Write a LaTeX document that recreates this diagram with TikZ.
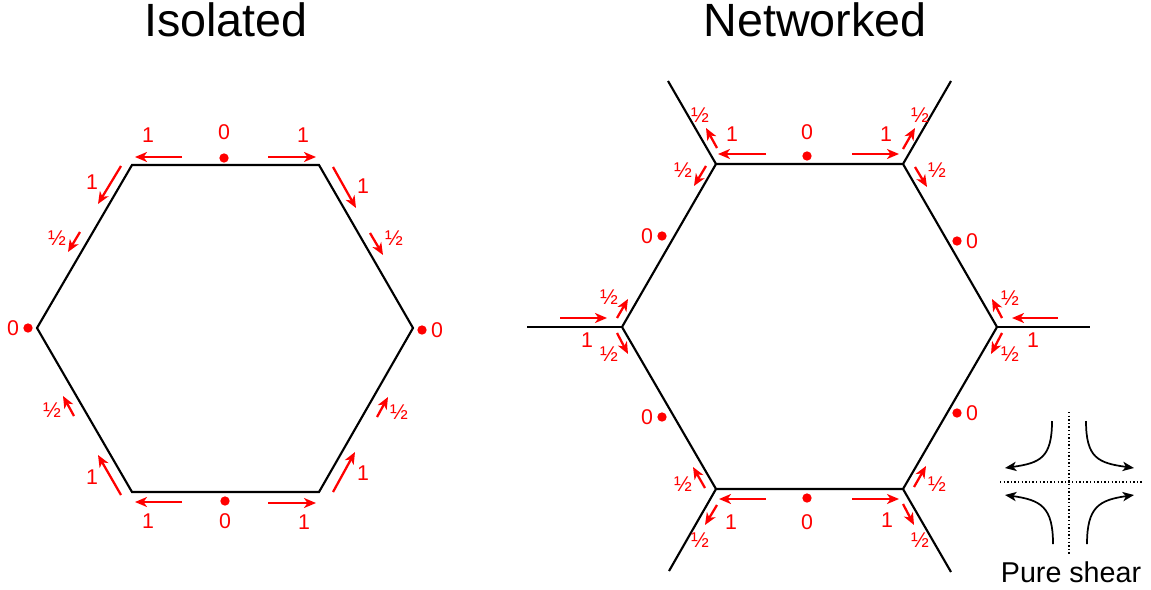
\documentclass[tikz,border=0pt]{standalone}
\usepackage{fontspec}
\setmainfont{Liberation Sans}
\usetikzlibrary{arrows.meta}
\begin{document}
\begin{tikzpicture}[x=0.75pt,y=-0.75pt,
  edge/.style={line width=1.6pt, black},
  force/.style={red, line width=1.7pt, -{Stealth[length=9pt,width=7.5pt,inset=2.6pt]}},
  lbl/.style={red, inner sep=0pt, font=\fontsize{16}{16}\selectfont},
  rdot/.style={fill=red, draw=none, circle, inner sep=0pt, minimum size=7pt},
  title/.style={inner sep=0pt, font=\fontsize{35}{35}\selectfont},
  shear/.style={line width=1.3pt, black, -{Stealth[length=8.5pt,width=7pt,inset=2.4pt]}},
  guide/.style={line width=1.1pt, dash pattern=on 1.1pt off 1.6pt}]
\useasboundingbox (0,0) rectangle (1151,589);

% titles
\node[title] (t1) at (226,20) {Isolated};
\node[title] (t2) at (815,20) {Networked};

% ---------- isolated hexagon ----------
\coordinate (aL) at (37,328);
\coordinate (aUL) at (132,165);
\coordinate (aUR) at (319,165);
\coordinate (aR) at (413,328);
\coordinate (aLR) at (319,492);
\coordinate (aLL) at (132,492);
\draw[edge] (aL)--(aUL)--(aUR)--(aR)--(aLR)--(aLL)--cycle;

\draw[force] (182,157)--(135,157);
\node[lbl] (a1) at (148,135) {1};
\draw[force] (268,157)--(316,157);
\node[lbl] (a2) at (303,135) {1};
\node[rdot] (ad1) at (224,158) {};
\node[lbl] (a3) at (224,132) {0};
\draw[force] (121,166)--(98,204);
\node[lbl] (a4) at (92,182) {1};
\draw[force] (80,232)--(68,252);
\node[lbl] (a5) at (57,238) {½};
\node[rdot] (ad2) at (28,328) {};
\node[lbl] (a6) at (13,328) {0};
\draw[force] (333,167)--(356,208);
\node[lbl] (a7) at (363,186) {1};
\draw[force] (370,233)--(383,255);
\node[lbl] (a8) at (394,238) {½};
\node[rdot] (ad3) at (422,330) {};
\node[lbl] (a9) at (437,330) {0};
\draw[force] (74,416)--(63,396);
\node[lbl] (a10) at (52,410) {½};
\draw[force] (121,495)--(98,455);
\node[lbl] (a11) at (92,477) {1};
\draw[force] (182,502)--(135,502);
\node[lbl] (a12) at (148,521) {1};
\node[rdot] (ad4) at (225,501) {};
\node[lbl] (a13) at (225,521) {0};
\draw[force] (333,492)--(355,452);
\node[lbl] (a14) at (363,473) {1};
\draw[force] (377,417)--(388,397);
\node[lbl] (a15) at (399,412) {½};
\draw[force] (268,503)--(316,503);
\node[lbl] (a16) at (304,522) {1};

% ---------- networked hexagon ----------
\coordinate (bL) at (622,327);
\coordinate (bUL) at (716,164);
\coordinate (bUR) at (903,164);
\coordinate (bR) at (997,327);
\coordinate (bLR) at (903,489);
\coordinate (bLL) at (716,489);
\coordinate (eUL) at (668,81);
\coordinate (eUR) at (951,81);
\coordinate (eL) at (527,327);
\coordinate (eR) at (1090,327);
\coordinate (eLL) at (669,571);
\coordinate (eLR) at (951,572);
\draw[edge] (bL)--(bUL)--(bUR)--(bR)--(bLR)--(bLL)--cycle;
\draw[edge] (bUL)--(eUL);
\draw[edge] (bUR)--(eUR);
\draw[edge] (bL)--(eL);
\draw[edge] (bR)--(eR);
\draw[edge] (bLL)--(eLL);
\draw[edge] (bLR)--(eLR);

\draw[force] (766,154)--(718,154);
\node[lbl] (b1) at (732,134) {1};
\node[rdot] (bd1) at (807,156) {};
\node[lbl] (b2) at (807,132) {0};
\draw[force] (852,154)--(899,154);
\node[lbl] (b3) at (886,134) {1};
\draw[force] (717,148)--(706,128);
\node[lbl] (b4) at (700,115) {½};
\draw[force] (706,166)--(694,186);
\node[lbl] (b5) at (683,170) {½};
\node[rdot] (bd2) at (662,236) {};
\node[lbl] (b6) at (647,236) {0};
\draw[force] (903,149)--(915,128);
\node[lbl] (b7) at (920,115) {½};
\draw[force] (915,167)--(927,187);
\node[lbl] (b8) at (937,170) {½};
\node[rdot] (bd3) at (957,241) {};
\node[lbl] (b9) at (972,241) {0};
\draw[force] (560,318)--(607,318);
\node[lbl] (b10) at (587,340) {1};
\draw[force] (617,318)--(628,299);
\node[lbl] (b11) at (609,297) {½};
\draw[force] (617,333)--(628,354);
\node[lbl] (b12) at (609,354) {½};
\draw[force] (1058,318)--(1012,318);
\node[lbl] (b13) at (1033,340) {1};
\draw[force] (1002,318)--(992,299);
\node[lbl] (b14) at (1010,298) {½};
\draw[force] (1002,333)--(991,354);
\node[lbl] (b15) at (1010,354) {½};
\draw[force] (705,488)--(693,467);
\node[lbl] (b16) at (683,484) {½};
\draw[force] (766,499)--(719,499);
\node[lbl] (b17) at (731,522) {1};
\draw[force] (717,505)--(705,525);
\node[lbl] (b18) at (700,540) {½};
\node[rdot] (bd4) at (807,498) {};
\node[lbl] (b19) at (807,522) {0};
\node[rdot] (bd5) at (662,417) {};
\node[lbl] (b20) at (647,417) {0};
\draw[force] (852,499)--(899,499);
\node[lbl] (b21) at (887,520) {1};
\draw[force] (914,487)--(926,466);
\node[lbl] (b22) at (937,484) {½};
\draw[force] (903,504)--(914,525);
\node[lbl] (b23) at (920,540) {½};
\node[rdot] (bd6) at (957,413) {};
\node[lbl] (b24) at (972,413) {0};

% ---------- pure shear ----------
\draw[guide] (1069,412)--(1069,555);
\draw[guide] (1000,482)--(1143,482);
\draw[shear] (1052,421) .. controls (1052,458) and (1040,463) .. (1005,468);
\draw[shear] (1086,421) .. controls (1086,458) and (1098,463) .. (1134,468);
\draw[shear] (1053,544) .. controls (1053,507) and (1041,500) .. (1005,495);
\draw[shear] (1087,544) .. controls (1087,507) and (1099,500) .. (1134,495);
\node[inner sep=0pt, font=\fontsize{21.5}{21.5}\selectfont] (ps) at (1071,572) {Pure shear};
\end{tikzpicture}
\end{document}
